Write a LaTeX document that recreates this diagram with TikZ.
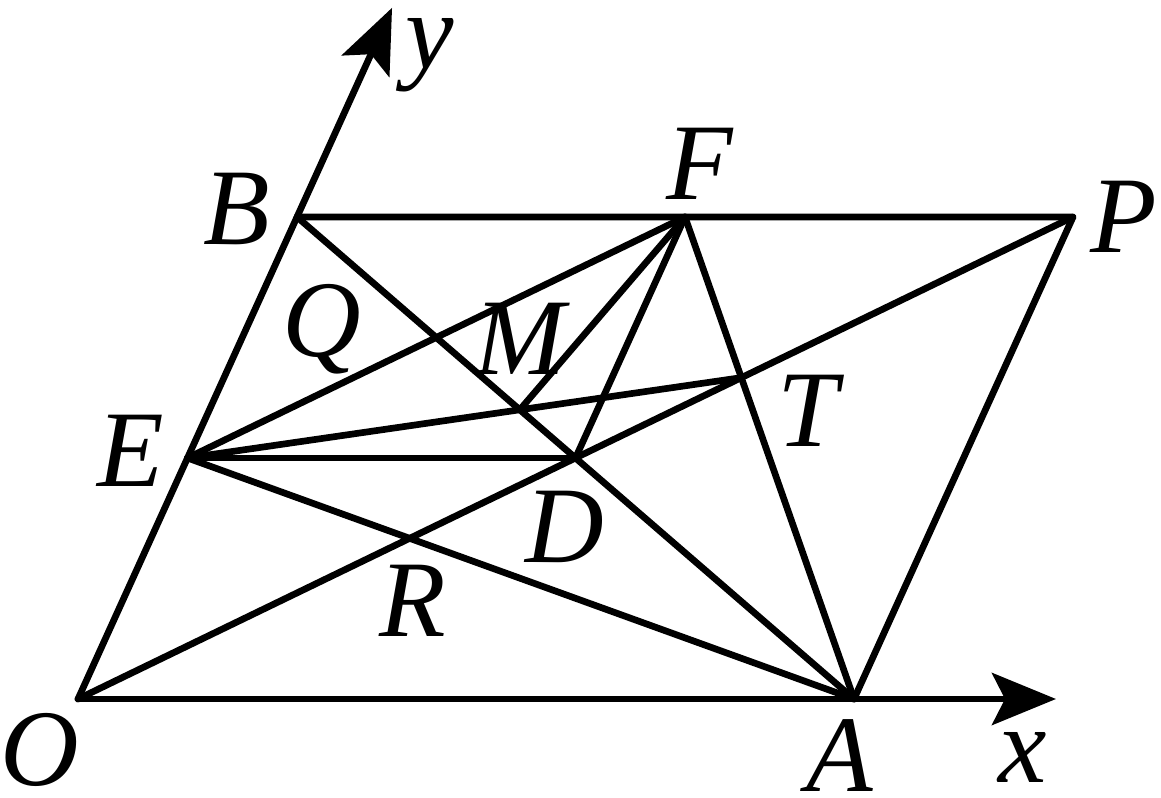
\documentclass[tikz,border=0pt]{standalone}
\usepackage{fontspec}
\newfontfamily\labfont{Liberation Serif}[UprightFont={* Italic}]
\usetikzlibrary{calc,arrows.meta}
\begin{document}
\begin{tikzpicture}[
  seg/.style={line width=1.9pt, line cap=round, line join=round},
  axis/.style={seg, -{Stealth[length=0.64cm,width=0.52cm,inset=0.13cm]}},
  lab/.style={inner sep=0pt, anchor=base, text depth=0pt, font=\fontsize{31}{31}\selectfont\labfont}
]
\useasboundingbox (0,0) rectangle (11.61,7.97);
\coordinate (O) at (0.78,0.98);
\coordinate (A) at (8.54,0.98);
\coordinate (B) at (2.97,5.80);
\coordinate (P) at (10.73,5.80);
\coordinate (xtip) at (10.56,0.98);
\coordinate (ytip) at ($(O)!1.434!(B)$);
\coordinate (E) at ($(O)!0.5!(B)$);
\coordinate (F) at ($(B)!0.5!(P)$);
\coordinate (D) at ($(O)!0.5!(P)$);
\coordinate (T) at (intersection of F--A and O--P);
\coordinate (R) at (intersection of E--A and O--P);
\coordinate (N) at (intersection of E--T and B--A);
% axes
\draw[axis] (O) -- (xtip);
\draw[axis] (O) -- (ytip);
% figure
\draw[seg] (B) -- (P) -- (A);
\draw[seg] (B) -- (A);
\draw[seg] (O) -- (P);
\draw[seg] (E) -- (F);
\draw[seg] (E) -- (D);
\draw[seg] (E) -- (A);
\draw[seg] (E) -- (T);
\draw[seg] (F) -- (D);
\draw[seg] (F) -- (A);
\draw[seg] (F) -- (N);
% labels
\node[lab] (ly) at (4.30,7.28) {y};
\node[lab] (lB) at (2.37,5.52) {B};
\node[lab] (lF) at (7.00,5.97) {F};
\node[lab] (lP) at (11.24,5.44) {P};
\node[lab] (lQ) at (3.22,4.40) {Q};
\node[lab] (lM) at (5.20,4.22) {M};
\node[lab] (lE) at (1.31,3.10) {E};
\node[lab] (lT) at (8.08,3.50) {T};
\node[lab] (lD) at (5.65,2.34) {D};
\node[lab] (lR) at (4.13,1.60) {R};
\node[lab] (lO) at (0.40,0.12) {O};
\node[lab] (lA) at (8.40,0.06) {A};
\node[lab] (lx) at (10.23,0.15) {x};
\end{tikzpicture}
\end{document}
